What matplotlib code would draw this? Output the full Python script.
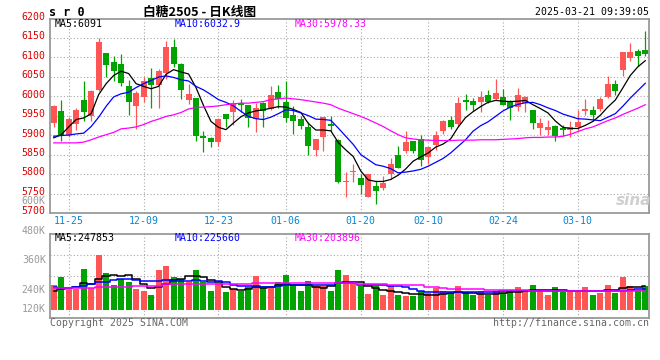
import matplotlib
matplotlib.use('Agg')
import matplotlib.pyplot as plt
import matplotlib.transforms as mtrans

plt.rcParams['font.family'] = ['DejaVu Sans Mono', 'Noto Sans CJK SC']

# ---------------- data ----------------
dates = ['11-21', '11-22', '11-25', '11-26', '11-27', '11-28', '11-29',
         '12-02', '12-03', '12-04', '12-05', '12-06', '12-09', '12-10', '12-11', '12-12', '12-13',
         '12-16', '12-17', '12-18', '12-19', '12-20', '12-23', '12-24', '12-25', '12-26', '12-27',
         '12-30', '12-31', '01-02', '01-03', '01-06', '01-07', '01-08', '01-09', '01-10',
         '01-13', '01-14', '01-15', '01-16', '01-17', '01-20', '01-21', '01-22', '01-23', '01-24',
         '01-27', '02-05', '02-06', '02-07', '02-10', '02-11', '02-12', '02-13', '02-14',
         '02-17', '02-18', '02-19', '02-20', '02-21', '02-24', '02-25', '02-26', '02-27', '02-28',
         '03-03', '03-04', '03-05', '03-06', '03-07', '03-10', '03-11', '03-12', '03-13', '03-14',
         '03-17', '03-18', '03-19', '03-20', '03-21']

opens = [5931, 5961, 5901, 5929, 5991, 5948, 6016, 6110, 6087, 6083,
         6027, 5974, 5999, 6046, 6029, 6059, 6127, 6083, 5989, 5995,
         5897, 5892, 5881, 5955, 5958, 5982, 5978, 5941, 5982, 5967,
         6010, 5986, 5951, 5942, 5921, 5863, 5894, 5928, 5888, 5780,
         5805, 5790, 5741, 5770, 5764, 5800, 5850, 5858, 5884, 5891,
         5843, 5875, 5910, 5940, 5929, 5991, 5988, 5985, 6004, 5993,
         5998, 5986, 5972, 5982, 5965, 5918, 5912, 5924, 5918, 5914,
         5921, 5963, 5965, 5967, 5998, 6032, 6066, 6097, 6115, 6119]
highs = [5976, 5991, 5946, 5969, 6040, 6016, 6148, 6112, 6102, 6109,
         6042, 6012, 6050, 6072, 6069, 6142, 6146, 6086, 6032, 5995,
         5910, 5894, 5944, 5955, 5991, 5992, 5978, 5982, 5984, 6025,
         6029, 6038, 5974, 5948, 5933, 5891, 5946, 5948, 5890, 5805,
         5826, 5799, 5800, 5782, 5794, 5841, 5871, 5910, 5886, 5899,
         5870, 5910, 5940, 5948, 5999, 6006, 5995, 6014, 6016, 6044,
         6018, 5991, 6022, 6000, 5965, 5944, 5940, 5927, 5927, 5935,
         5965, 5992, 5974, 5999, 6052, 6042, 6114, 6136, 6121, 6167]
lows = [5921, 5884, 5895, 5912, 5935, 5935, 6014, 6050, 6039, 6025,
        5952, 5916, 5986, 5969, 5969, 6044, 6076, 5993, 5980, 5884,
        5856, 5869, 5873, 5922, 5927, 5958, 5922, 5907, 5922, 5965,
        5969, 5933, 5904, 5916, 5850, 5846, 5858, 5910, 5778, 5741,
        5779, 5750, 5740, 5724, 5759, 5788, 5816, 5854, 5854, 5820,
        5827, 5863, 5904, 5916, 5924, 5965, 5963, 5958, 5982, 5991,
        5976, 5940, 5961, 5958, 5916, 5901, 5901, 5884, 5898, 5895,
        5910, 5952, 5935, 5963, 5995, 6004, 6052, 6089, 6078, 6103]
closes = [5974, 5898, 5942, 5965, 5958, 6014, 6138, 6080, 6065, 6033,
          5984, 6009, 6039, 6029, 6065, 6127, 6083, 6016, 6006, 5898,
          5893, 5881, 5942, 5941, 5982, 5977, 5944, 5969, 5961, 6003,
          5992, 5945, 5935, 5924, 5871, 5891, 5946, 5924, 5779, 5781,
          5807, 5771, 5799, 5756, 5776, 5827, 5816, 5881, 5860, 5837,
          5869, 5899, 5935, 5922, 5982, 5986, 5976, 5997, 5984, 6008,
          5976, 5969, 6004, 5999, 5931, 5931, 5920, 5898, 5914, 5921,
          5933, 5968, 5952, 5993, 6032, 6014, 6113, 6113, 6104, 6109]

ma5 = [5893, 5901, 5921, 5940, 5944, 5955, 6004, 6032, 6053, 6064,
       6058, 6032, 6025, 6019, 6025, 6056, 6068, 6062, 6057, 6022,
       5976, 5935, 5920, 5914, 5931, 5947, 5957, 5962, 5965, 5969,
       5973, 5972, 5966, 5958, 5930, 5913, 5913, 5911, 5881, 5862,
       5845, 5808, 5785, 5781, 5781, 5786, 5797, 5813, 5833, 5844,
       5854, 5869, 5877, 5890, 5920, 5945, 5960, 5973, 5984, 5989,
       5987, 5986, 5987, 5989, 5978, 5968, 5957, 5936, 5920, 5917,
       5917, 5925, 5935, 5951, 5972, 5990, 6021, 6053, 6075, 6091]
ma10 = [5897, 5899, 5900, 5903, 5905, 5922, 5946, 5974, 5998, 6006,
        6010, 6022, 6032, 6040, 6049, 6052, 6048, 6042, 6039, 6025,
        6016, 6004, 5991, 5984, 5975, 5961, 5948, 5942, 5940, 5946,
        5955, 5965, 5963, 5957, 5950, 5941, 5940, 5938, 5918, 5897,
        5876, 5850, 5837, 5824, 5820, 5814, 5803, 5805, 5808, 5812,
        5820, 5830, 5840, 5854, 5871, 5888, 5910, 5924, 5934, 5948,
        5962, 5972, 5979, 5983, 5984, 5978, 5970, 5963, 5954, 5948,
        5942, 5941, 5939, 5937, 5946, 5955, 5974, 5995, 6014, 6033]
ma30 = [5880, 5880, 5880, 5880, 5882, 5888, 5895, 5901, 5907, 5916,
        5918, 5921, 5927, 5935, 5941, 5948, 5952, 5958, 5967, 5971,
        5972, 5973, 5975, 5978, 5980, 5982, 5982, 5984, 5986, 5991,
        5993, 5995, 5993, 5991, 5988, 5985, 5982, 5978, 5969, 5962,
        5955, 5948, 5940, 5931, 5922, 5911, 5901, 5893, 5890, 5888,
        5887, 5886, 5886, 5886, 5887, 5887, 5887, 5888, 5888, 5888,
        5889, 5890, 5891, 5893, 5894, 5894, 5895, 5895, 5897, 5902,
        5909, 5916, 5921, 5929, 5937, 5944, 5953, 5961, 5969, 5978]

# volume, in thousands of lots
volume = [265, 341, 221, 221, 431, 231, 568, 383, 265, 327,
          290, 224, 204, 155, 420, 455, 341, 327, 290, 414,
          290, 204, 283, 186, 224, 197, 241, 351, 248, 231,
          293, 369, 258, 197, 306, 248, 248, 197, 420, 362,
          283, 248, 172, 248, 162, 248, 162, 145, 145, 197,
          179, 231, 204, 179, 255, 190, 155, 204, 155, 204,
          179, 197, 238, 186, 265, 214, 155, 238, 195, 200,
          193, 238, 162, 185, 259, 179, 345, 255, 210, 255]
vol_ma5 = [204, 221, 231, 241, 283, 278, 320, 360, 365, 360,
           362, 320, 275, 235, 245, 278, 318, 326, 355, 360,
           343, 318, 293, 245, 218, 210, 218, 238, 236, 238,
           268, 275, 268, 268, 260, 246, 235, 250, 280, 298,
           292, 290, 255, 236, 210, 200, 190, 182, 172, 165,
           160, 163, 165, 182, 193, 182, 182, 172, 172, 175,
           180, 188, 193, 200, 207, 212, 207, 207, 207, 200,
           196, 205, 197, 196, 210, 212, 228, 242, 246, 248]
vol_ma10 = [241, 231, 231, 238, 248, 272, 290, 295, 312, 320,
            320, 310, 303, 302, 302, 318, 305, 305, 305, 310,
            305, 298, 300, 290, 258, 256, 256, 256, 245, 245,
            256, 258, 258, 258, 266, 266, 266, 266, 283, 285,
            285, 268, 266, 265, 265, 256, 254, 240, 226, 204,
            190, 188, 190, 189, 190, 189, 189, 190, 192, 195,
            196, 197, 198, 199, 200, 201, 203, 205, 206, 206,
            206, 206, 204, 202, 203, 202, 206, 212, 219, 226]
vol_ma30 = [231, 231, 231, 231, 231, 231, 241, 241, 241, 241,
            241, 248, 248, 248, 248, 276, 276, 276, 276, 276,
            276, 276, 276, 276, 276, 276, 276, 283, 283, 283,
            283, 283, 283, 283, 283, 283, 283, 283, 283, 283,
            283, 272, 272, 272, 272, 265, 265, 265, 265, 265,
            241, 241, 231, 224, 224, 224, 224, 224, 214, 214,
            214, 214, 214, 214, 205, 205, 204, 204, 203, 203,
            203, 202, 202, 202, 202, 203, 203, 203, 204, 204]

date_ticks = ['11-25', '12-09', '12-23', '01-06', '01-20', '02-10', '02-24', '03-10']
price_ticks = [5700, 5750, 5800, 5850, 5900, 5950, 6000, 6050, 6100, 6150, 6200]
vol_tick_labels = ['600K', '480K', '360K', '240K', '120K']
price_legend = ['MA5:6091', 'MA10:6032.9', 'MA30:5978.33']
vol_legend = ['MA5:247853', 'MA10:225660', 'MA30:203896']

# ---------------- style ----------------
RED = '#FF5555'
GREEN = '#00A300'
MA_COLORS = ['#000000', '#0000FF', '#FF00FF']
GRID = '#A8A8A8'
BORDER = '#9A9A9A'
DOT = (0, (1, 2))
FS = 7.1

W, H = 660, 360


def box(l, t, r, b):
    return [l / W, 1 - b / H, (r - l) / W, (b - t) / H]


fig = plt.figure(figsize=(6.6, 3.6), dpi=100)
ax = fig.add_axes(box(50, 19, 649, 213))
axv = fig.add_axes(box(50, 234, 649, 318))

n = len(closes)
x = list(range(n))
tick_pos = [dates.index(d) for d in date_ticks]

for a in (ax, axv):
    a.set_xlim(-0.5, n - 0.5)
    a.set_xticks([])
    a.set_yticks([])
    for s in a.spines.values():
        s.set_color(BORDER)
        s.set_linewidth(1.3)
    for p in tick_pos:
        a.axvline(p, color=GRID, lw=0.8, linestyle=DOT, zorder=0)

# ---------------- price panel ----------------
ax.set_ylim(5700, 6198)
for p in price_ticks[1:-1]:
    ax.axhline(p, color=GRID, lw=0.8, linestyle=DOT, zorder=0)

colors = [RED if c >= o else GREEN for o, c in zip(opens, closes)]
ax.vlines(x, lows, highs, colors=colors, lw=0.9, zorder=2)
bottoms = [min(o, c) for o, c in zip(opens, closes)]
heights = [max(abs(c - o), 2) for o, c in zip(opens, closes)]
ax.bar(x, heights, bottom=bottoms, width=0.8, color=colors, lw=0, zorder=3)

for vals, col in zip([ma5, ma10, ma30], MA_COLORS):
    ax.plot(x, vals, color=col, lw=0.9, zorder=4)

ytr = mtrans.blended_transform_factory(ax.transAxes, ax.transData)
for p in price_ticks:
    ax.text(-0.007, p + 4, str(p), transform=ytr, ha='right', va='center',
            color='#DD0000', fontsize=FS)

xtr = mtrans.blended_transform_factory(ax.transData, ax.transAxes)
for p, lab in zip(tick_pos, date_ticks):
    ax.text(p, -0.042, lab, transform=xtr, ha='center', va='center',
            color='#0A84D0', fontsize=FS)

for lab, col, xp in zip(price_legend, MA_COLORS, [5, 125, 245]):
    ax.text(xp / 600, 0.972, lab, transform=ax.transAxes, ha='left', va='center',
            color=col, fontsize=FS)

ax.text(0.975, 0.065, 'sina', transform=ax.transAxes, ha='center', va='center',
        color='#CFCFCF', fontsize=11, fontweight='bold', style='italic',
        family='DejaVu Sans')

# ---------------- volume panel ----------------
axv.set_ylim(-78, 790)
for frac in (0.25, 0.5, 0.75):
    axv.plot([0, 1], [frac, frac], transform=axv.transAxes, color=GRID,
             lw=0.8, linestyle=DOT, zorder=0)

axv.bar(x, volume, width=0.8, color=colors, lw=0, zorder=2)
for vals, col in zip([vol_ma5, vol_ma10, vol_ma30], MA_COLORS):
    axv.plot(x, vals, color=col, lw=1.1, drawstyle='steps-mid', zorder=3)

vtr = mtrans.blended_transform_factory(axv.transAxes, axv.transData)
for lab, v in zip(vol_tick_labels, [1133, 826, 517, 214, 14]):
    axv.text(-0.007, v, lab, transform=vtr, ha='right', va='center',
             color='#999999', fontsize=FS)

for lab, col, xp in zip(vol_legend, MA_COLORS, [5, 125, 245]):
    axv.text(xp / 600, 0.955, lab, transform=axv.transAxes, ha='left', va='center',
             color=col, fontsize=FS)

# ---------------- header / footer ----------------
fig.text(49 / W, 1 - 12 / H, 's r 0', ha='left', va='center', fontsize=8.5,
         fontweight='bold', color='#000000')
fig.text(200 / W, 1 - 12 / H, '白糖2505 - 日K线图', ha='center', va='center',
         fontsize=9.2, fontweight='bold', family=['Noto Sans CJK SC', 'DejaVu Sans'])
fig.text(649 / W, 1 - 12 / H, '2025-03-21 09:39:05', ha='right', va='center',
         fontsize=FS, color='#000000')
fig.text(50 / W, 1 - 323 / H, 'Copyright 2025 SINA.COM', ha='left', va='center',
         fontsize=FS, color='#666666')
fig.text(649 / W, 1 - 323 / H, 'http://finance.sina.com.cn', ha='right', va='center',
         fontsize=FS, color='#666666')

fig.savefig('out.png', dpi=100, facecolor='white')
